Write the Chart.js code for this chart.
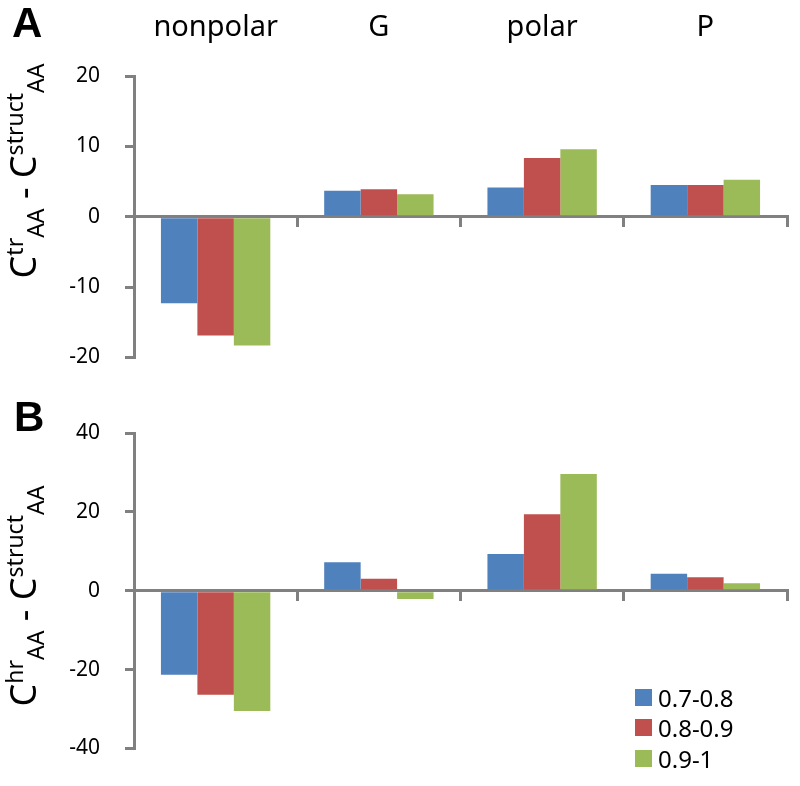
<!DOCTYPE html>
<html><head><meta charset="utf-8">
<script src="https://cdn.jsdelivr.net/npm/chart.js@4.4.0/dist/chart.umd.min.js"></script>
<style>
html,body{margin:0;padding:0;background:#fff;}
#wrap{position:relative;width:800px;height:786px;overflow:hidden;font-family:'Noto Sans',sans-serif;color:#000;}
canvas{position:absolute;left:0;}
.panel{position:absolute;font-family:'Liberation Sans',Arial,sans-serif;font-weight:bold;font-size:42px;line-height:1;}
.ytitle{position:absolute;width:300px;height:50px;line-height:50px;text-align:center;white-space:nowrap;font-size:36px;transform:rotate(-90deg);}
.ytitle sup,.ytitle sub{font-size:23px;line-height:0;}
.legend{position:absolute;left:635px;top:682px;font-size:24px;}
.legend .row{height:30.5px;display:flex;align-items:center;white-space:nowrap;}
.legend .sw{width:17px;height:17px;margin-right:6px;}
</style>
</head><body>
<div id="wrap">
  <canvas id="cA" width="800" height="395" style="top:0"></canvas>
  <canvas id="cB" width="800" height="391" style="top:395px"></canvas>
  <div class="panel" style="left:12px;top:2px">A</div>
  <div class="panel" style="left:14px;top:396px">B</div>
  <div class="ytitle" style="left:-127px;top:146px">C<sup>tr</sup><sub>AA</sub> - C<sup>struct</sup><sub>AA</sub></div>
  <div class="ytitle" style="left:-127px;top:571px">C<sup>hr</sup><sub>AA</sub> - C<sup>struct</sup><sub>AA</sub></div>
  <div class="legend" id="legend"></div>
</div>
<script>
const categories = ['nonpolar', 'G', 'polar', 'P'];
const seriesLabels = ['0.7-0.8', '0.8-0.9', '0.9-1'];
const seriesColors = ['#4F81BD', '#C0504D', '#9BBB59'];

const panelA_07_08 = [-12.3, 3.7, 4.15, 4.5];
const panelA_08_09 = [-16.9, 3.9, 8.35, 4.5];
const panelA_09_1  = [-18.3, 3.2, 9.6, 5.25];

const panelB_07_08 = [-21.3, 7.2, 9.3, 4.3];
const panelB_08_09 = [-26.4, 3.0, 19.4, 3.4];
const panelB_09_1  = [-30.5, -2.1, 29.6, 1.9];

const ticksA = [-20, -10, 0, 10, 20];
const ticksB = [-40, -20, 0, 20, 40];

Chart.defaults.font.family = "'Noto Sans', sans-serif";
Chart.defaults.color = '#000';
const axisColor = '#808080';

function makeChart(id, seriesData, tickVals, padding, withTop) {
  const datasets = seriesData.map((d, i) => ({
    label: seriesLabels[i],
    data: d,
    backgroundColor: seriesColors[i],
    borderWidth: 0,
    categoryPercentage: 0.67,
    barPercentage: 1.0
  }));
  const scales = {
    x: {
      type: 'category',
      position: { y: 0 },
      offset: true,
      grid: { display: true, drawOnChartArea: false, drawTicks: true, tickLength: 9, color: axisColor, lineWidth: 3, offset: true },
      border: { display: true, color: axisColor, width: 3 },
      ticks: { display: false }
    },
    y: {
      type: 'linear',
      min: tickVals[0],
      max: tickVals[tickVals.length - 1],
      afterBuildTicks: s => { s.ticks = tickVals.map(v => ({ value: v })); },
      afterFit: s => { s.width = 134; },
      grid: { display: true, drawOnChartArea: false, drawTicks: true, tickLength: 9, color: axisColor, lineWidth: 3 },
      border: { display: true, color: axisColor, width: 3 },
      ticks: { padding: 25, font: { size: 21 }, color: '#000' }
    }
  };
  if (withTop) {
    scales.x2 = {
      type: 'category',
      labels: categories,
      position: 'top',
      offset: true,
      grid: { display: false, drawTicks: false },
      border: { display: false },
      ticks: { font: { size: 29 }, color: '#000', padding: 31, maxRotation: 0 },
      afterFit: s => { s.height = 76; }
    };
  }
  return new Chart(document.getElementById(id), {
    type: 'bar',
    data: { labels: categories, datasets },
    options: {
      responsive: false,
      animation: false,
      devicePixelRatio: 1,
      layout: { padding },
      plugins: { legend: { display: false }, tooltip: { enabled: false } },
      scales
    }
  });
}

makeChart('cA', [panelA_07_08, panelA_08_09, panelA_09_1], ticksA, { left: 0, right: 13, top: 0, bottom: 30 }, true);
makeChart('cB', [panelB_07_08, panelB_08_09, panelB_09_1], ticksB, { left: 0, right: 13, top: 38, bottom: 15 }, false);

const leg = document.getElementById('legend');
seriesLabels.forEach((lab, i) => {
  const row = document.createElement('div');
  row.className = 'row';
  const sw = document.createElement('span');
  sw.className = 'sw';
  sw.style.background = seriesColors[i];
  const t = document.createElement('span');
  t.textContent = lab;
  row.appendChild(sw); row.appendChild(t);
  leg.appendChild(row);
});
</script>
</body></html>
